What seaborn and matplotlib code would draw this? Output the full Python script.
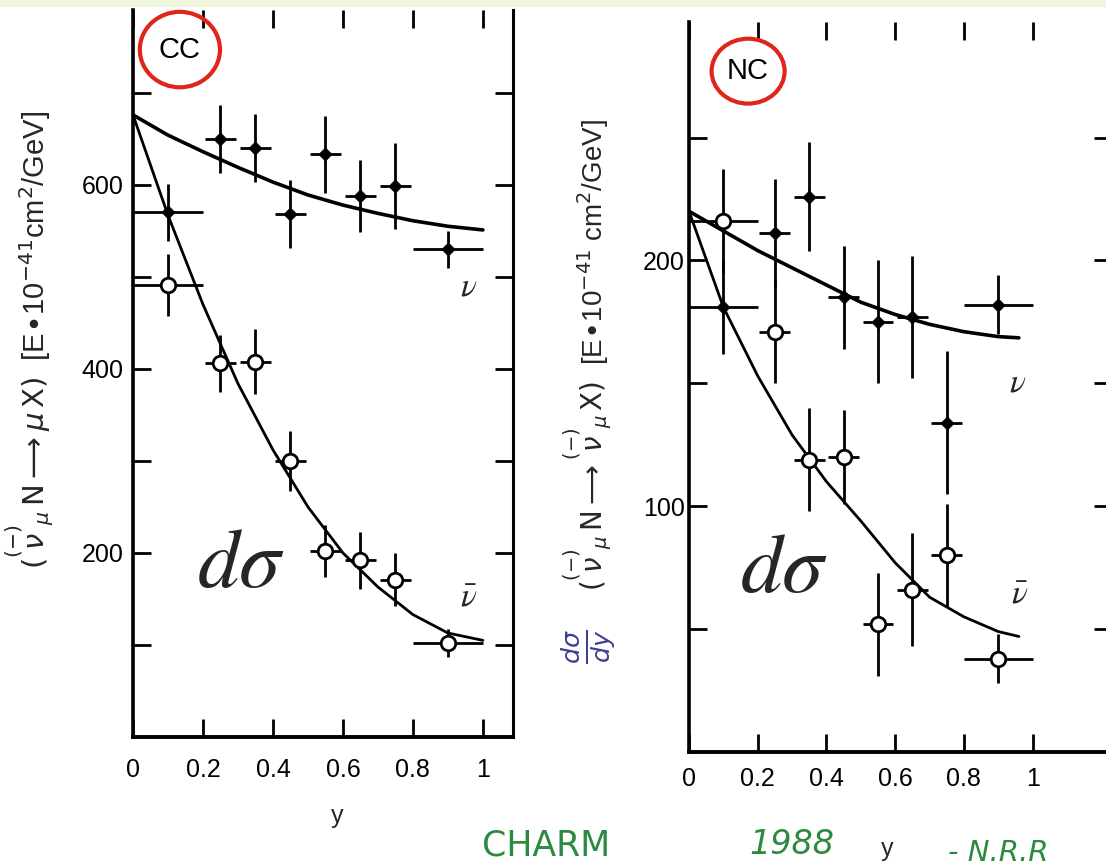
import numpy as np
import pandas as pd
import matplotlib
matplotlib.use("Agg")
import matplotlib.pyplot as plt
import seaborn as sns
from matplotlib.patches import Ellipse, Rectangle
from matplotlib.ticker import FixedLocator, FixedFormatter

# ---- data ----
# charged current (CC) panel
cc_y_nu = [0.10, 0.25, 0.35, 0.45, 0.55, 0.65, 0.75, 0.90]
cc_nu = [570, 650, 640, 568, 633, 588, 599, 530]
cc_nu_err = [31, 37, 37, 37, 42, 39, 47, 20]
cc_y_nubar = [0.10, 0.25, 0.35, 0.45, 0.55, 0.65, 0.75, 0.90]
cc_nubar = [491, 406, 408, 300, 202, 192, 171, 102]
cc_nubar_err = [34, 31, 35, 33, 28, 31, 29, 15]
bin_halfwidth = [0.10, 0.045, 0.045, 0.045, 0.045, 0.045, 0.045, 0.10]

cc_curve_y = [0.0, 0.1, 0.2, 0.3, 0.4, 0.5, 0.6, 0.7, 0.8, 0.9, 1.0]
cc_curve_nu = [676, 654, 636, 619, 603, 589, 578, 569, 561, 555, 551]
cc_curve_nubar = [676, 567, 470, 384, 312, 250, 200, 163, 133, 113, 105]

# neutral current (NC) panel
nc_y_nu = [0.10, 0.25, 0.35, 0.45, 0.55, 0.65, 0.75, 0.90]
nc_nu = [181, 211, 226, 185, 175, 177, 134, 182]
nc_nu_err = [19, 22, 22, 21, 25, 25, 29, 12]
nc_y_nubar = [0.10, 0.25, 0.35, 0.45, 0.55, 0.65, 0.75, 0.90]
nc_nubar = [216, 171, 119, 120, 52, 66, 80, 38]
nc_nubar_err = [21, 21, 21, 19, 21, 23, 21, 10]

nc_curve_y = [0.0, 0.1, 0.2, 0.3, 0.4, 0.5, 0.6, 0.7, 0.8, 0.9, 0.96]
nc_curve_nu = [220, 212, 204, 197, 190, 183, 178, 174, 171, 169, 168.5]
nc_curve_nubar = [220, 181, 153, 129, 110, 94, 77, 63, 55, 49, 47]

x_ticks = [0, 0.2, 0.4, 0.6, 0.8, 1.0]
x_tick_labels = ["0", "0.2", "0.4", "0.6", "0.8", "1"]
cc_y_ticks = [100, 200, 300, 400, 500, 600, 700]
cc_y_tick_labels = ["", "200", "", "400", "", "600", ""]
nc_y_ticks = [50, 100, 150, 200, 250]
nc_y_tick_labels = ["", "100", "", "200", ""]

# ---- style ----
sns.set_theme(style="ticks")
plt.rcParams["font.family"] = ["Liberation Sans", "DejaVu Sans"]
plt.rcParams["mathtext.fontset"] = "dejavusans"

W, H = 1106, 865
fig = plt.figure(figsize=(W / 100, H / 100), dpi=100)
fig.patch.set_facecolor("white")
fig.patches.append(Rectangle((0, 1 - 6 / H), 1, 6 / H, transform=fig.transFigure,
                             color="#eef7dc", zorder=0))


def px_axes(left, right, top, bottom):
    return fig.add_axes([left / W, 1 - bottom / H, (right - left) / W, (bottom - top) / H])


def draw_panel(ax, y_nu, nu, nu_err, y_nb, nb, nb_err, cy, c_nu, c_nb):
    ax.errorbar(y_nu, nu, xerr=bin_halfwidth, yerr=nu_err, fmt="none",
                ecolor="black", elinewidth=2, capsize=0, zorder=2)
    ax.errorbar(y_nb, nb, xerr=bin_halfwidth, yerr=nb_err, fmt="none",
                ecolor="black", elinewidth=2, capsize=0, zorder=2)
    sns.lineplot(x=cy, y=c_nu, ax=ax, color="black", lw=2.6, zorder=3)
    sns.lineplot(x=cy, y=c_nb, ax=ax, color="black", lw=2.0, zorder=3)
    sns.scatterplot(x=y_nu, y=nu, ax=ax, marker="D", s=45, color="black",
                    edgecolor="black", zorder=4)
    sns.scatterplot(x=y_nb, y=nb, ax=ax, marker="o", s=110, facecolor="white",
                    edgecolor="black", linewidth=2, zorder=4)


def style_axes(ax, yticks, ylabels, xpad, ypad):
    ax.set_facecolor("white")
    ax.xaxis.set_major_locator(FixedLocator(x_ticks))
    ax.xaxis.set_major_formatter(FixedFormatter(x_tick_labels))
    ax.yaxis.set_major_locator(FixedLocator(yticks))
    ax.yaxis.set_major_formatter(FixedFormatter(ylabels))
    ax.tick_params(direction="in", length=13, width=2, top=True, right=True,
                   labelsize=18, colors="black")
    ax.tick_params(axis="x", pad=xpad)
    ax.tick_params(axis="y", pad=ypad)
    ax.spines["top"].set_visible(False)
    for s in ["left", "bottom", "right"]:
        ax.spines[s].set_color("black")
    ax.spines["left"].set_linewidth(2.6)
    ax.spines["bottom"].set_linewidth(2.8)
    ax.spines["right"].set_linewidth(2.2)
    ax.grid(False)


# CC panel
ax_cc = px_axes(133, 513, 10, 737)
draw_panel(ax_cc, cc_y_nu, cc_nu, cc_nu_err, cc_y_nubar, cc_nubar, cc_nubar_err,
           cc_curve_y, cc_curve_nu, cc_curve_nubar)
ax_cc.set_xlim(0, 1.086)
ax_cc.set_ylim(0, 790)
style_axes(ax_cc, cc_y_ticks, cc_y_tick_labels, 15, 7)
ax_cc.set_xlabel("y", fontsize=18)
ax_cc.xaxis.set_label_coords(0.537, -0.092)
ax_cc.set_ylabel("")

# NC panel
ax_nc = px_axes(689, 1112, 22, 752)
draw_panel(ax_nc, nc_y_nu, nc_nu, nc_nu_err, nc_y_nubar, nc_nubar, nc_nubar_err,
           nc_curve_y, nc_curve_nu, nc_curve_nubar)
ax_nc.set_xlim(0, 1.231)
ax_nc.set_ylim(0, 297)
style_axes(ax_nc, nc_y_ticks, nc_y_tick_labels, 11, 3)
ax_nc.set_xlabel("y", fontsize=18)
ax_nc.xaxis.set_label_coords(0.468, -0.116)
ax_nc.set_ylabel("")

# circled panel tags
red = "#e0261c"
for ax, cx, cy, w, h, tag in [(ax_cc, 0.134, 747, 0.229, 82, "CC"),
                              (ax_nc, 0.172, 277, 0.2125, 26.4, "NC")]:
    ax.add_patch(Ellipse((cx, cy), w, h, fill=False, edgecolor=red, lw=3, clip_on=False))
    ax.text(cx, cy, tag, ha="center", va="center", fontsize=21, color="black")

# neutrino labels
for ax, x, y, lab in [(ax_cc, 0.96, 489, r"$\nu$"), (ax_cc, 0.96, 151, r"$\bar{\nu}$"),
                      (ax_nc, 0.955, 150, r"$\nu$"), (ax_nc, 0.963, 64, r"$\bar{\nu}$")]:
    ax.text(x, y, lab, ha="center", va="center", fontsize=24, math_fontfamily="stix")

# big d sigma
ax_cc.text(0.31, 187, r"$d\sigma$", ha="center", va="center", fontsize=60,
           math_fontfamily="stix")
ax_nc.text(0.277, 74, r"$d\sigma$", ha="center", va="center", fontsize=60,
           math_fontfamily="stix")

# y-axis labels
fig.text(30 / W, 1 - 340 / H,
         r"$(\overset{(-)}{\nu}_{\mu}\,\mathrm{N} \longrightarrow \mu\,\mathrm{X})$"
         r"  [E$\bullet$10$^{-41}$cm$^2$/GeV]",
         rotation=90, ha="center", va="center", fontsize=21)
fig.text(588 / W, 1 - 355 / H,
         r"$(\overset{(-)}{\nu}_{\mu}\,\mathrm{N} \longrightarrow \overset{(-)}{\nu}_{\mu}\,\mathrm{X})$"
         r"  [E$\bullet$10$^{-41}$ cm$^2$/GeV]",
         rotation=90, ha="center", va="center", fontsize=20)
fig.text(589 / W, 1 - 647 / H, r"$\frac{d\sigma}{dy}$", rotation=90, ha="center",
         va="center", fontsize=26, color="#3b3f8f")

# handwritten note
green = "#2b8a3e"
fig.text(546 / W, 1 - 845 / H, "CHARM", color=green, fontsize=25, ha="center",
         va="center", family="DejaVu Sans")
fig.text(792 / W, 1 - 845 / H, "1988", color=green, fontsize=24, ha="center",
         va="center", family="DejaVu Sans", style="italic")
fig.text(948 / W, 1 - 853 / H, "- N.R.R", color=green, fontsize=21, ha="left",
         va="center", family="DejaVu Sans", style="italic")

fig.savefig("out.png", dpi=100, facecolor=fig.get_facecolor())
